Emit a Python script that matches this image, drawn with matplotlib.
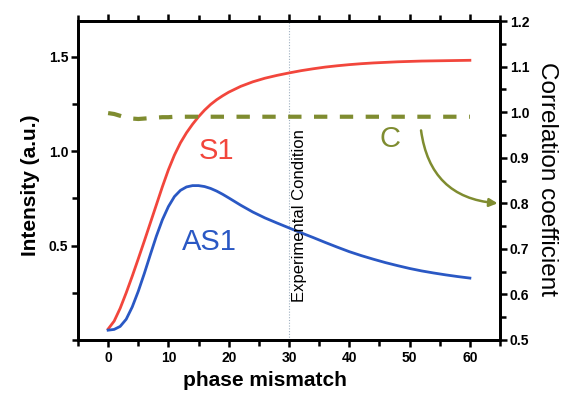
import matplotlib
matplotlib.use("Agg")
import matplotlib.pyplot as plt
from matplotlib.ticker import MultipleLocator

plt.rcParams['font.family'] = ['Liberation Sans', 'DejaVu Sans']

# Data
x_vals = [0, 1, 2, 3, 4, 5, 6, 7, 8, 9, 10, 11, 12, 13, 14, 15, 16, 17, 18, 19, 20,
          22, 24, 26, 28, 30, 32, 34, 36, 38, 40, 42, 44, 46, 48, 50, 52, 54, 56, 58, 60]
s1_vals = [0.058, 0.10, 0.168, 0.25, 0.338, 0.43, 0.524, 0.62, 0.716, 0.812, 0.902,
           0.98, 1.045, 1.098, 1.143, 1.183, 1.218, 1.248, 1.273, 1.294, 1.313,
           1.344, 1.368, 1.387, 1.402, 1.415, 1.427, 1.437, 1.446, 1.453, 1.459,
           1.464, 1.468, 1.471, 1.474, 1.476, 1.478, 1.479, 1.48, 1.481, 1.482]
as1_vals = [0.052, 0.056, 0.072, 0.11, 0.175, 0.258, 0.352, 0.452, 0.55, 0.637, 0.707,
            0.76, 0.793, 0.811, 0.818, 0.818, 0.813, 0.803, 0.789, 0.772, 0.753,
            0.714, 0.678, 0.647, 0.62, 0.594, 0.568, 0.543, 0.517, 0.492, 0.468,
            0.447, 0.428, 0.41, 0.394, 0.379, 0.366, 0.355, 0.345, 0.336, 0.328]
c_vals = [0.998, 0.996, 0.992, 0.988, 0.986, 0.985, 0.986, 0.987, 0.988, 0.989, 0.989,
          0.99, 0.99, 0.99, 0.99, 0.99, 0.99, 0.99, 0.99, 0.99, 0.99,
          0.99, 0.99, 0.99, 0.99, 0.99, 0.99, 0.99, 0.99, 0.99, 0.99,
          0.99, 0.99, 0.99, 0.99, 0.99, 0.99, 0.99, 0.99, 0.99, 0.99]
x_ticks = [0, 10, 20, 30, 40, 50, 60]
left_ticks = [0.5, 1.0, 1.5]
right_ticks = [0.5, 0.6, 0.7, 0.8, 0.9, 1.0, 1.1, 1.2]
exp_condition = 30

red = '#f2463c'
blue = '#2a58c4'
olive = '#7f8c30'

fig = plt.figure(figsize=(5.65, 3.97), dpi=100)
ax = fig.add_axes([0.138, 0.1436, 0.747, 0.8034])
ax2 = ax.twinx()

ax.plot(x_vals, s1_vals, color=red, lw=2, zorder=3, solid_joinstyle='round')
ax.plot(x_vals, as1_vals, color=blue, lw=2, zorder=3, solid_joinstyle='round')
ax2.plot(x_vals, c_vals, color=olive, lw=3, dashes=(3.2, 3.0))

ax.axvline(exp_condition, color='#9fb0c0', lw=0.8, ls=(0, (1, 1.5)), zorder=1)
ax.text(31.8, 0.657, 'Experimental Condition', rotation=90, ha='center', va='center',
        fontsize=12, color='black')

ax.set_xlim(-5, 65)
ax.set_ylim(0, 1.69)
ax2.set_ylim(0.5, 1.2)

ax.set_xticks(x_ticks)
ax.xaxis.set_minor_locator(MultipleLocator(5))
ax.set_yticks(left_ticks)
ax.yaxis.set_minor_locator(MultipleLocator(0.25))
ax2.set_yticks(right_ticks)
ax2.yaxis.set_minor_locator(MultipleLocator(0.05))

ax.tick_params(axis='x', which='both', direction='out', top=True, bottom=True,
               labeltop=False, width=1.8, labelsize=10, pad=3)
ax.tick_params(axis='x', which='major', length=5)
ax.tick_params(axis='x', which='minor', length=4)
ax.tick_params(axis='y', which='both', direction='out', left=True, right=False,
               width=1.8, labelsize=10, pad=2)
ax.tick_params(axis='y', which='major', length=5)
ax.tick_params(axis='y', which='minor', length=4)
ax2.tick_params(axis='y', which='both', direction='out', width=1.8, labelsize=10, pad=2)
ax2.tick_params(axis='y', which='major', length=5)
ax2.tick_params(axis='y', which='minor', length=4)

for a in (ax, ax2):
    for sp in a.spines.values():
        sp.set_linewidth(2)
    for lbl in a.get_xticklabels() + a.get_yticklabels():
        lbl.set_fontweight('bold')

fig.text(265 / 565, 1 - 381 / 397, 'phase mismatch', fontsize=15, fontweight='bold',
         ha='center', va='center')
fig.text(30 / 565, 1 - 185.5 / 397, 'Intensity (a.u.)', fontsize=15, fontweight='bold',
         rotation=90, ha='center', va='center')
fig.text(547 / 565, 1 - 179 / 397, 'Correlation coefficient', fontsize=17.5,
         rotation=270, ha='center', va='center')

ax.text(18, 1.0, 'S1', color=red, fontsize=21, ha='center', va='center')
ax.text(16.75, 0.519, 'AS1', color=blue, fontsize=21, ha='center', va='center')
ax2.text(46.75, 0.941, 'C', color=olive, fontsize=21, ha='center', va='center')

ax2.annotate('', xy=(64.6, 0.8), xytext=(51.9, 0.96),
             arrowprops=dict(arrowstyle='-|>', color=olive, lw=1.8,
                             connectionstyle='arc3,rad=0.4', mutation_scale=12,
                             shrinkA=0, shrinkB=0))

fig.savefig('out.png', dpi=100)
